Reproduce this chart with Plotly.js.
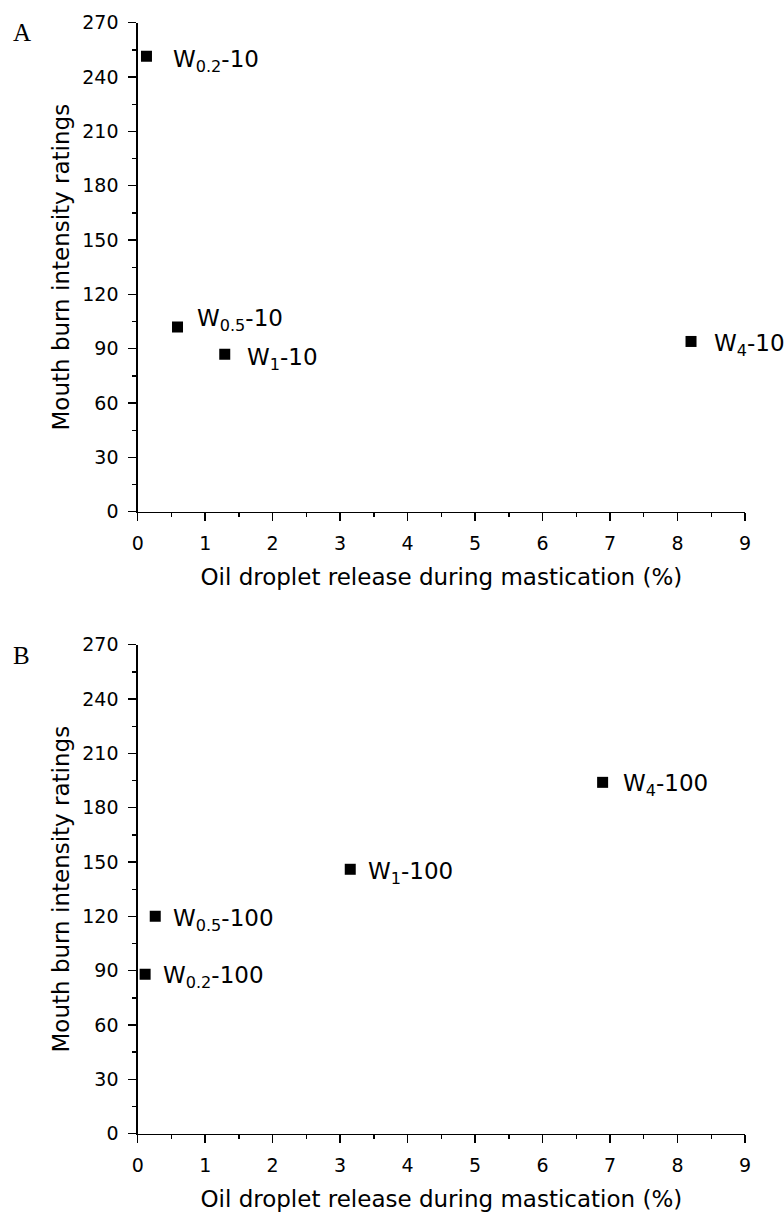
<!DOCTYPE html>
<html>
<head>
<meta charset="utf-8">
<script src="https://cdn.plot.ly/plotly-3.0.1.min.js"></script>
<style>
  html, body { margin: 0; padding: 0; background: #ffffff; }
  #chart { width: 784px; height: 1216px; }
</style>
</head>
<body>
<div id="chart"></div>
<script>
// ---- data ----
const labelsA = ['W<sub>0.2</sub>-10', 'W<sub>0.5</sub>-10', 'W<sub>1</sub>-10', 'W<sub>4</sub>-10'];
const oilA    = [0.13, 0.59, 1.29, 8.20];
const burnA   = [251.5, 102, 87, 94];

const labelsB = ['W<sub>0.2</sub>-100', 'W<sub>0.5</sub>-100', 'W<sub>1</sub>-100', 'W<sub>4</sub>-100'];
const oilB    = [0.11, 0.26, 3.15, 6.89];
const burnB   = [88, 120, 146, 194];

const xTickVals = [0, 1, 2, 3, 4, 5, 6, 7, 8, 9];
const yTickVals = [0, 30, 60, 90, 120, 150, 180, 210, 240, 270];
const panelLetters = ['A', 'B'];
const xTitle = 'Oil droplet release during mastication (%)';
const yTitle = 'Mouth burn intensity ratings';

// ---- label placement (style, pixels) ----
const dxA = [26, 18, 21, 22];
const dyA = [-2, 10, -2, -1];
const dxB = [17, 17, 17, 19];
const dyB = [0, -1, -1, 0];

const FONT = 'DejaVu Sans, Liberation Sans, Arial, sans-serif';

function xAxis(anchor) {
  return {
    anchor: anchor,
    domain: [137.7 / 784, 745 / 784],
    range: [0, 9],
    tickvals: xTickVals,
    ticktext: xTickVals.map(String),
    showgrid: false, zeroline: false,
    showline: true, linecolor: '#000', linewidth: 1.4,
    ticks: 'outside', ticklen: 8, tickwidth: 1.4, tickcolor: '#000',
    minor: { dtick: 0.5, ticks: 'outside', ticklen: 4, tickwidth: 1.4, tickcolor: '#000', showgrid: false },
    tickfont: { family: FONT, size: 19, color: '#000' },
    ticklabelstandoff: 6,
    title: { text: xTitle, font: { family: FONT, size: 23, color: '#000' }, standoff: 16 },
    fixedrange: true
  };
}
function yAxis(anchor, top, bottom) {
  return {
    anchor: anchor,
    domain: [1 - bottom / 1216, 1 - top / 1216],
    range: [0, 270],
    tickvals: yTickVals,
    ticktext: yTickVals.map(String),
    showgrid: false, zeroline: false,
    showline: true, linecolor: '#000', linewidth: 1.4,
    ticks: 'outside', ticklen: 8, tickwidth: 1.4, tickcolor: '#000',
    minor: { dtick: 15, ticks: 'outside', ticklen: 4, tickwidth: 1.4, tickcolor: '#000', showgrid: false },
    tickfont: { family: FONT, size: 19, color: '#000' },
    ticklabelstandoff: 6,
    title: { text: yTitle, font: { family: FONT, size: 23, color: '#000' }, standoff: 6 },
    fixedrange: true
  };
}

const traces = [
  { type: 'scatter', mode: 'markers', x: oilA, y: burnA, xaxis: 'x', yaxis: 'y',
    marker: { symbol: 'square', size: 11, color: '#000' }, hoverinfo: 'skip', showlegend: false },
  { type: 'scatter', mode: 'markers', x: oilB, y: burnB, xaxis: 'x2', yaxis: 'y2',
    marker: { symbol: 'square', size: 11, color: '#000' }, hoverinfo: 'skip', showlegend: false }
];

const annotations = [];
labelsA.forEach((t, i) => annotations.push({
  xref: 'x', yref: 'y', x: oilA[i], y: burnA[i], text: t, showarrow: false,
  xanchor: 'left', yanchor: 'middle', xshift: dxA[i] - 1, yshift: dyA[i] - 3,
  font: { family: FONT, size: 23, color: '#000' }
}));
labelsB.forEach((t, i) => annotations.push({
  xref: 'x2', yref: 'y2', x: oilB[i], y: burnB[i], text: t, showarrow: false,
  xanchor: 'left', yanchor: 'middle', xshift: dxB[i] - 1, yshift: dyB[i] - 3,
  font: { family: FONT, size: 23, color: '#000' }
}));
const letterY = [33, 655];
panelLetters.forEach((L, i) => annotations.push({
  xref: 'paper', yref: 'paper', x: 11 / 784, y: 1 - letterY[i] / 1216, text: L, showarrow: false,
  xanchor: 'left', yanchor: 'middle',
  font: { family: 'Liberation Serif, Times New Roman, serif', size: 25, color: '#000' }
}));

const layout = {
  width: 784, height: 1216,
  margin: { l: 0, r: 0, t: 0, b: 0, pad: 0 },
  paper_bgcolor: '#fff', plot_bgcolor: '#fff',
  showlegend: false,
  xaxis: xAxis('y'),
  yaxis: yAxis('x', 22.7, 511.7),
  xaxis2: xAxis('y2'),
  yaxis2: yAxis('x2', 644.7, 1133.7),
  annotations: annotations
};

Plotly.newPlot('chart', traces, layout, { staticPlot: true, displayModeBar: false });
</script>
</body>
</html>
